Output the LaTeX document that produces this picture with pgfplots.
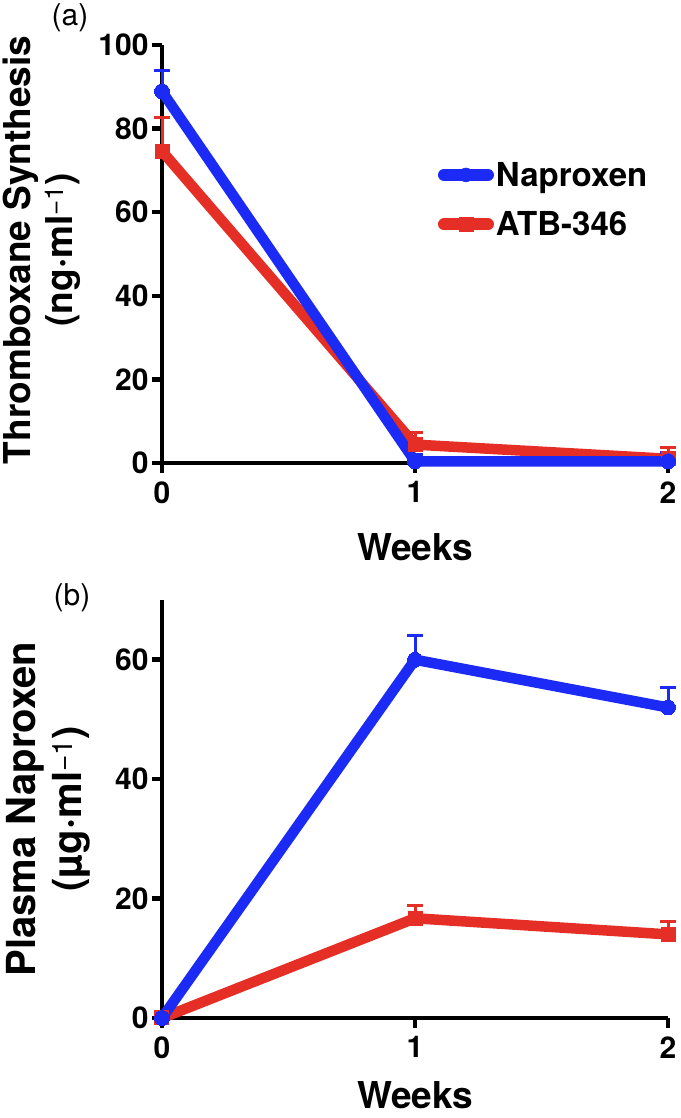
\documentclass[border=0pt]{standalone}
\usepackage{fontspec}
\setmainfont{TeX Gyre Heros}
\usepackage{pgfplots}
\pgfplotsset{compat=1.18}
\definecolor{blueN}{RGB}{28,42,245}
\definecolor{redA}{RGB}{228,46,38}
\pgfplotsset{
  mystyle/.style={
    scale only axis, width=506pt, height=418pt,
    axis lines=left, axis line style={-, line width=4.5pt},
    xmin=0, xmax=2, ymin=0,
    xtick={0,1,2},
    tick align=outside, major tick length=10pt,
    tick style={line width=4.5pt, black},
    /pgf/number format/assume math mode=true,
    ticklabel style={font=\fontsize{30}{31}\selectfont\bfseries},
    xticklabel style={yshift=-5pt},
    xlabel={Weeks},
    xlabel style={font=\fontsize{37}{40}\selectfont\bfseries, at={(axis description cs:0.5,0)}, anchor=center, yshift=-84pt},
    clip=false,
  },
  naps/.style={blueN, line width=10.5pt, mark=*, mark size=7.5pt, mark options={line width=0pt, fill=blueN},
    error bars/y dir=plus, error bars/y explicit, error bars/error mark=|,
    error bars/error bar style={line width=3pt, blueN},
    error bars/error mark options={line width=3pt, mark size=8pt, blueN}},
  atbs/.style={redA, line width=10.5pt, mark=square*, mark size=7pt, mark options={line width=0pt, fill=redA},
    error bars/y dir=plus, error bars/y explicit, error bars/error mark=|,
    error bars/error bar style={line width=3pt, redA},
    error bars/error mark options={line width=3pt, mark size=8pt, redA}},
}
\pgfplotstableread{
x y e
0 88.9 4.9
1 0.4 1.6
2 0.4 2.1
}\tabTopNap
\pgfplotstableread{
x y e
0 74.6 8.1
1 4.4 2.8
2 1.0 2.6
}\tabTopAtb
\pgfplotstableread{
x y e
0 0 0
1 60 4
2 52 3.3
}\tabBotNap
\pgfplotstableread{
x y e
0 0 0
1 16.7 2.1
2 14 2.2
}\tabBotAtb
\begin{document}
\begin{tikzpicture}
\useasboundingbox (0,0) rectangle (680pt,1118pt);
\begin{axis}[mystyle, at={(162pt,655pt)}, anchor=south west,
  ymax=100, ytick={0,20,40,60,80,100},
  ylabel={Thromboxane Synthesis\\(ng·ml\textsuperscript{\mdseries −1})},
  ylabel style={font=\fontsize{37}{42}\selectfont\bfseries, align=center, at={(axis description cs:-0.237,0.51)}, anchor=center},
  legend style={draw=none, fill=none, at={(axis description cs:0.545,0.725)}, anchor=north west,
    font=\fontsize{33}{36}\selectfont\bfseries, row sep=20pt, inner sep=0pt, cells={anchor=west}},
]
\addlegendimage{legend image code/.code={\draw[blueN, line width=12pt, line cap=round] (0pt,0pt) -- (44pt,0pt); \fill[blueN] (22pt,0pt) circle (7pt);}}
\addlegendentry{Naproxen}
\addlegendimage{legend image code/.code={\draw[redA, line width=12pt, line cap=round] (0pt,0pt) -- (44pt,0pt); \fill[redA] (15pt,-7pt) rectangle (29pt,7pt);}}
\addlegendentry{ATB-346}
\addplot[forget plot, atbs] table[x=x, y=y, y error=e] {\tabTopAtb};
\addplot[forget plot, naps] table[x=x, y=y, y error=e] {\tabTopNap};
\end{axis}
\begin{axis}[mystyle, at={(162pt,100pt)}, anchor=south west,
  ymax=70, ytick={0,20,40,60},
  xlabel style={yshift=7pt},
  ylabel={Plasma Naproxen\\(µg·ml\textsuperscript{\mdseries −1})},
  ylabel style={font=\fontsize{40}{46}\selectfont\bfseries, align=center, at={(axis description cs:-0.225,0.5)}, anchor=center},
]
\addplot[atbs] table[x=x, y=y, y error=e] {\tabBotAtb};
\addplot[naps] table[x=x, y=y, y error=e] {\tabBotNap};
\end{axis}
\node[font=\fontsize{30}{36}\selectfont] at (70pt,1100pt) {(a)};
\node[font=\fontsize{30}{36}\selectfont] at (72pt,520pt) {(b)};
\end{tikzpicture}
\end{document}
